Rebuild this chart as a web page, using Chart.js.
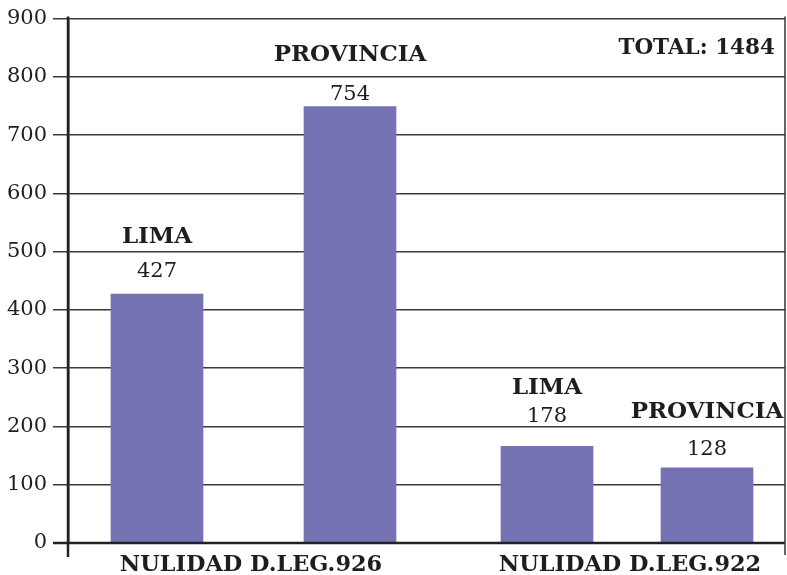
<!DOCTYPE html>
<html>
<head>
<meta charset="utf-8">
<script src="https://cdn.jsdelivr.net/npm/chart.js@4/dist/chart.umd.min.js"></script>
<style>
  html, body { margin: 0; padding: 0; background: #fff; }
  #wrap { width: 787px; height: 575px; position: relative; }
</style>
</head>
<body>
<div id="wrap"><canvas id="chart"></canvas></div>
<script>
// Datos del gráfico
const groups = ['NULIDAD D.LEG.926', 'NULIDAD D.LEG.922'];
const barNames = ['LIMA', 'PROVINCIA', 'LIMA', 'PROVINCIA'];
const barValues = [427, 749, 166, 129];            // altura de las barras
const valueLabels = ['427', '754', '178', '128'];  // cifras impresas sobre las barras
const yTicks = [0, 100, 200, 300, 400, 500, 600, 700, 800, 900];
const totalText = 'TOTAL: 1484';

// Posiciones en el eje x (unidades del eje, 0..717)
const barPos = [89, 282, 479, 639];
const groupPos = [183, 562];
// Desplazamientos (px) de los textos respecto al tope de cada barra
const nameOffset = [-57, -52, -58, -56];
const valueOffset = [-23, -12, -30, -18];

const BAR_COLOR = '#7572b4';
const FONT = '"DejaVu Serif", serif';

// Rótulos, total y líneas extra del marco
const labelsPlugin = {
    id: 'labels',
    afterDraw(chart) {
        const ctx = chart.ctx;
        const area = chart.chartArea;
        const meta = chart.getDatasetMeta(0);

        ctx.save();
        // eje izquierdo prolongado hacia abajo
        ctx.strokeStyle = '#222';
        ctx.lineWidth = 2.5;
        ctx.beginPath();
        ctx.moveTo(area.left, area.top - 2);
        ctx.lineTo(area.left, area.bottom + 14);
        ctx.stroke();
        // línea inferior
        ctx.beginPath();
        ctx.moveTo(area.left - 15, area.bottom);
        ctx.lineTo(area.right, area.bottom);
        ctx.stroke();
        // borde derecho
        ctx.lineWidth = 1.5;
        ctx.strokeStyle = '#333';
        ctx.beginPath();
        ctx.moveTo(area.right, area.top - 2);
        ctx.lineTo(area.right, area.bottom + 12);
        ctx.stroke();

        ctx.fillStyle = '#1e1e1e';
        ctx.textAlign = 'center';
        ctx.textBaseline = 'middle';
        meta.data.forEach((bar, i) => {
            ctx.font = 'bold 23px ' + FONT;
            ctx.fillText(barNames[i], bar.x, bar.y + nameOffset[i]);
            ctx.font = '21px ' + FONT;
            ctx.fillText(valueLabels[i], bar.x, bar.y + valueOffset[i]);
        });

        ctx.font = 'bold 21.5px ' + FONT;
        ctx.textAlign = 'right';
        ctx.fillText(totalText, area.right - 10, area.top + 30);
        ctx.restore();
    }
};

new Chart(document.getElementById('chart'), {
    type: 'bar',
    data: {
        datasets: [{
            data: barPos.map((x, i) => ({ x: x, y: barValues[i] })),
            backgroundColor: BAR_COLOR,
            borderWidth: 0,
            barThickness: 92
        }]
    },
    options: {
        responsive: true,
        maintainAspectRatio: false,
        animation: false,
        layout: { padding: { top: 18, right: 2, left: 0, bottom: 0 } },
        plugins: {
            legend: { display: false },
            tooltip: { enabled: false }
        },
        scales: {
            x: {
                type: 'linear',
                min: 0,
                max: 717,
                offset: false,
                grid: { display: false, offset: false },
                border: { display: false },
                afterBuildTicks: (axis) => {
                    axis.ticks = groupPos.map(v => ({ value: v }));
                },
                afterFit: (axis) => { axis.height = 32; },
                ticks: {
                    autoSkip: false,
                    maxRotation: 0,
                    padding: 1,
                    color: '#1e1e1e',
                    font: { family: FONT, size: 22.4, weight: 'bold' },
                    callback: (v) => groups[groupPos.indexOf(v)]
                }
            },
            y: {
                min: 0,
                max: 900,
                afterBuildTicks: (axis) => {
                    axis.ticks = yTicks.map(v => ({ value: v }));
                },
                afterFit: (axis) => { axis.width = 68; },
                grid: {
                    color: '#3a3a3a',
                    lineWidth: 1.5,
                    tickLength: 15,
                    drawTicks: true
                },
                border: { display: true, color: '#222', width: 2.5 },
                ticks: {
                    padding: 6,
                    color: '#1e1e1e',
                    font: { family: FONT, size: 21 }
                }
            }
        }
    },
    plugins: [labelsPlugin]
});
</script>
</body>
</html>
